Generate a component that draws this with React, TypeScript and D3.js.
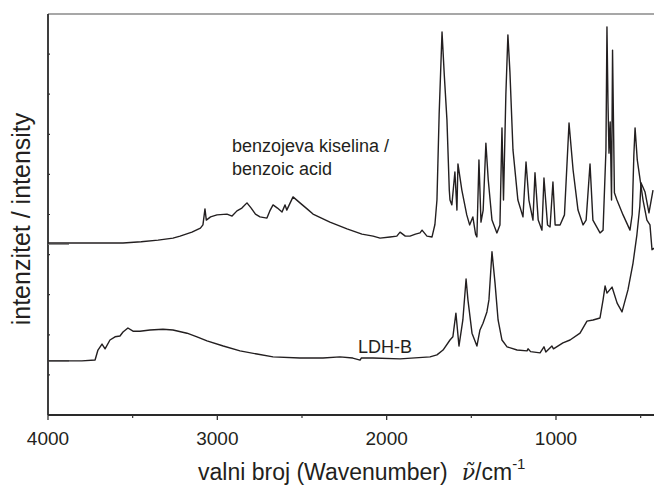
import React from "react";
import * as d3 from "d3";

// [wavenumber cm-1, intensity (arbitrary units, offset)]
const benzoicAcid: [number, number][] = [
  [4000, 42.9], [3700, 42.9], [3557, 42.9], [3450, 43.2], [3350, 43.6], [3262, 44.1],
  [3220, 44.6], [3150, 45.6], [3100, 46.6], [3085, 47.4], [3073, 51.4], [3065, 48.6],
  [3040, 49.4], [3002, 49.9], [2943, 50.1], [2913, 49.6], [2884, 50.9], [2855, 51.6],
  [2825, 52.9], [2800, 51.6], [2775, 50.1], [2748, 49.4], [2707, 49.1], [2690, 50.9],
  [2671, 52.4], [2645, 51.6], [2618, 50.6], [2600, 52.4], [2590, 51.1], [2553, 54.4],
  [2512, 52.9], [2470, 51.4], [2435, 50.1], [2335, 48.1], [2234, 46.4], [2146, 45.1],
  [2080, 44.6], [2039, 44.1], [1980, 44.4], [1940, 44.6], [1921, 45.6], [1890, 44.6],
  [1862, 44.6], [1830, 45.1], [1803, 45.4], [1791, 46.1], [1762, 44.6], [1732, 44.4],
  [1715, 47.5], [1703, 53.6], [1690, 75.0], [1673, 95.5], [1660, 85.0], [1644, 73.6],
  [1630, 56.0], [1626, 53.6], [1615, 52.4], [1597, 60.6], [1585, 51.1], [1579, 62.6],
  [1556, 56.1], [1527, 49.9], [1510, 47.4], [1491, 49.4], [1475, 45.1], [1467, 44.4],
  [1455, 63.6], [1443, 48.1], [1430, 51.1], [1414, 67.8], [1400, 58.6], [1378, 48.6],
  [1349, 45.4], [1331, 47.4], [1319, 71.6], [1310, 53.6], [1296, 80.0], [1284, 94.8],
  [1272, 85.5], [1254, 66.1], [1225, 53.6], [1195, 49.4], [1177, 63.1], [1160, 53.6],
  [1136, 48.6], [1124, 60.4], [1105, 48.6], [1083, 46.1], [1071, 59.1], [1050, 47.4],
  [1035, 46.9], [1018, 58.1], [1005, 47.4], [976, 47.4], [950, 49.9], [923, 72.8],
  [899, 61.1], [870, 51.1], [840, 47.4], [822, 48.6], [799, 62.6], [782, 48.6],
  [740, 45.4], [722, 46.1], [705, 66.1], [699, 96.8], [693, 78.0], [687, 65.3],
  [680, 73.1], [672, 53.6], [666, 91.0], [655, 55.4], [640, 53.6], [604, 49.9],
  [563, 46.1], [550, 50.0], [540, 65.0], [533, 71.6], [520, 63.6], [486, 53.6],
  [463, 48.6], [445, 47.4], [433, 41.2], [420, 41.6],
];

const ldhB: [number, number][] = [
  [4000, 13.5], [3800, 13.5], [3722, 13.7], [3705, 16.2], [3681, 17.7], [3663, 16.5],
  [3634, 18.7], [3604, 19.5], [3575, 19.7], [3557, 20.7], [3528, 21.7], [3498, 20.9],
  [3457, 20.9], [3398, 21.2], [3321, 21.4], [3262, 21.2], [3179, 20.4], [3120, 19.5],
  [3061, 18.5], [2965, 17.2], [2866, 16.0], [2766, 15.2], [2671, 14.5], [2512, 14.2],
  [2376, 14.2], [2276, 14.5], [2200, 14.2], [2157, 13.7], [2150, 14.2], [2081, 14.2],
  [1921, 14.0], [1744, 14.5], [1703, 15.0], [1667, 16.2], [1626, 18.7], [1609, 19.5],
  [1591, 25.4], [1573, 17.2], [1550, 23.7], [1531, 33.9], [1520, 28.7], [1496, 20.4],
  [1467, 17.2], [1449, 21.2], [1431, 22.9], [1408, 25.7], [1396, 28.7], [1378, 40.7],
  [1360, 32.9], [1342, 23.7], [1319, 18.7], [1289, 17.0], [1230, 16.2], [1171, 16.0],
  [1165, 16.5], [1150, 15.8], [1094, 15.5], [1071, 17.0], [1060, 15.7], [1024, 17.2],
  [1015, 16.5], [959, 18.0], [917, 18.7], [858, 20.4], [817, 23.4], [781, 23.7],
  [740, 24.2], [722, 28.7], [710, 32.2], [699, 30.4], [669, 31.9], [639, 27.9],
  [610, 25.7], [575, 31.2], [545, 37.9], [522, 45.0], [505, 52.0], [498, 57.9],
  [474, 55.6], [451, 50.4], [427, 56.1],
];

const xMajorTicks = [4000, 3000, 2000, 1000];
const xMinorTicks = [3500, 2500, 1500, 500];
const yMinorTicks = [10, 20, 30, 40, 50, 60, 70, 80, 90];
const yOffsetTicks = [13.5, 42.6];

const xTitle = "valni broj (Wavenumber)";
const yTitle = "intenzitet / intensity";
const labelBenzoic1 = "benzojeva kiselina /";
const labelBenzoic2 = "benzoic acid";
const labelLdh = "LDH-B";

export default function App() {
  const W = 654, H = 486;
  const left = 48, top = 14, bottom = 415;
  const x = d3.scaleLinear().domain([4000, 400]).range([left, left + 3600 * 0.16933]);
  const y = d3.scaleLinear().domain([0, 100]).range([bottom, top]);
  const line = d3.line<[number, number]>().x((d) => x(d[0])).y((d) => y(d[1]));
  const ink = "#231f20";
  const font = "'Liberation Sans', Arial, sans-serif";

  return (
    <svg width={W} height={H} style={{ position: "absolute", left: 0, top: 0, background: "#fff" }}>
      <defs>
        <clipPath id="plot">
          <rect x={left} y={0} width={W - left} height={bottom} />
        </clipPath>
      </defs>
      {/* frame */}
      <line x1={left} x2={W} y1={top} y2={top} stroke="#8a8a8a" strokeWidth={1.5} />
      <line x1={left} x2={W} y1={bottom} y2={bottom} stroke="#2a2a2a" strokeWidth={1.8} />
      <line x1={left} x2={left} y1={top} y2={bottom} stroke="#2a2a2a" strokeWidth={1.8} />
      {/* y ticks */}
      {yMinorTicks.map((t) => (
        <line key={"ym" + t} x1={left} x2={left + 2} y1={y(t)} y2={y(t)} stroke="#333" strokeWidth={1.2} />
      ))}
      {yOffsetTicks.map((t) => (
        <line key={"yo" + t} x1={left} x2={left + 21} y1={y(t)} y2={y(t)} stroke="#777" strokeWidth={1.3} />
      ))}
      {/* x ticks */}
      {xMajorTicks.map((t) => (
        <g key={"xM" + t}>
          <line x1={x(t)} x2={x(t)} y1={bottom} y2={bottom + 5} stroke="#333" strokeWidth={1.3} />
          <text x={x(t)} y={445} textAnchor="middle" fontFamily={font} fontSize={19} fill={ink}>
            {t}
          </text>
        </g>
      ))}
      {xMinorTicks.map((t) => (
        <line key={"xm" + t} x1={x(t)} x2={x(t)} y1={bottom} y2={bottom + 3} stroke="#333" strokeWidth={1.2} />
      ))}
      {/* spectra */}
      <g clipPath="url(#plot)" fill="none" stroke={ink} strokeWidth={1.4} strokeLinejoin="round">
        <path d={line(benzoicAcid) || ""} />
        <path d={line(ldhB) || ""} />
      </g>
      {/* annotations */}
      <text x={232} y={152} fontFamily={font} fontSize={18} fill={ink}>{labelBenzoic1}</text>
      <text x={232} y={175} fontFamily={font} fontSize={18} fill={ink}>{labelBenzoic2}</text>
      <text x={358} y={353} fontFamily={font} fontSize={18} fill={ink}>{labelLdh}</text>
      {/* titles */}
      <text x={198} y={480} fontFamily={font} fontSize={23} fill={ink}>
        {xTitle}
        <tspan dx={14} fontFamily="'DejaVu Serif', serif" fontStyle="italic" fontSize={22}>ν̃</tspan>
        <tspan>/cm</tspan>
        <tspan dy={-11} fontSize={15}>-1</tspan>
      </text>
      <text
        transform={`translate(30, 219) rotate(-90)`}
        textAnchor="middle"
        fontFamily={font}
        fontSize={25}
        fill={ink}
      >
        {yTitle}
      </text>
    </svg>
  );
}
